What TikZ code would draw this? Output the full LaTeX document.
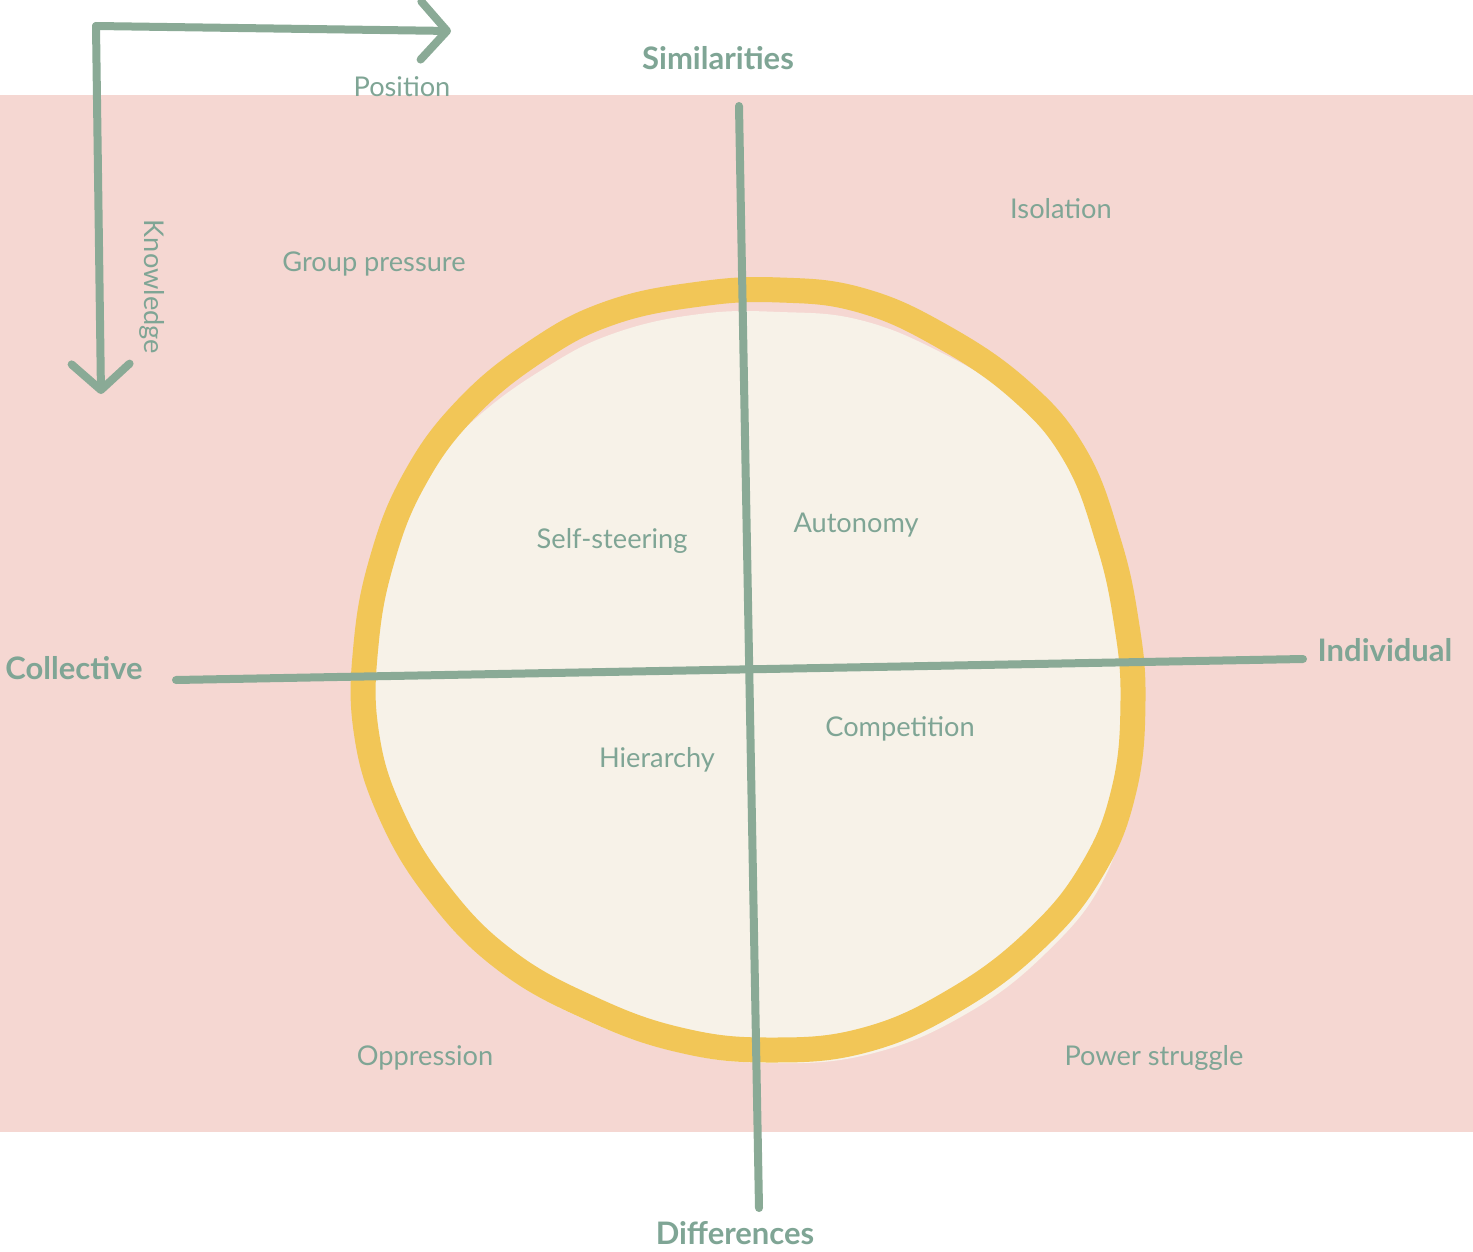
\documentclass[tikz,border=0pt]{standalone}
\usepackage{fontspec}
\setmainfont{Lato}
\usetikzlibrary{arrows.meta}
\definecolor{pinkbg}{HTML}{F5D7D2}
\definecolor{ringyellow}{HTML}{F2C657}
\definecolor{creamfill}{HTML}{F7F2E8}
\definecolor{axisgreen}{HTML}{8AAA96}
\definecolor{labelgreen}{HTML}{7FA595}
\tikzset{
  axisline/.style={draw=axisgreen, line width=4pt, line cap=round},
  arrowline/.style={draw=axisgreen, line width=4pt, line cap=round, line join=round,
    -{Straight Barb[round, length=13pt, width=29pt]}},
  quadlabel/.style={text=labelgreen, font=\fontsize{13.6}{16}\selectfont, inner sep=0pt},
  polelabel/.style={text=labelgreen, font=\fontsize{15.5}{18}\selectfont\bfseries, inner sep=0pt},
}
\begin{document}
\begin{tikzpicture}[x=0.5pt, y=-0.5pt]
\useasboundingbox (0,0) rectangle (1473,1252);
\fill[white] (0,0) rectangle (1473,1252);
\fill[pinkbg] (0,95) rectangle (1473,1132);

% blob fill (slightly offset from the ring) and ring
\fill[creamfill] plot[smooth cycle, tension=0.7] coordinates {
 (780,312) (860,320) (940,352) (1014,398) (1070,458) (1108,540) (1126,620) (1133,700)
 (1128,793) (1104,879) (1047,952) (966,1014) (870,1054) (770,1063) (678,1052)
 (586,1020) (498,970) (430,900) (388,812) (366,730) (366,645) (382,560)
 (416,483) (474,420) (545,368) (615,333) (700,314)};
\draw[ringyellow, line width=12.5pt] plot[smooth cycle, tension=0.7] coordinates {
 (780,290) (860,300) (940,335) (1020,390) (1075,455) (1108,540) (1126,620) (1133,700)
 (1124,790) (1092,870) (1035,940) (955,1000) (865,1040) (770,1050) (680,1040)
 (590,1008) (505,960) (438,892) (390,812) (366,730) (366,645) (382,560)
 (414,480) (465,410) (535,352) (610,313) (700,294)};

% axes
\coordinate (vtop) at (739,106);
\coordinate (vbot) at (759,1208);
\coordinate (hleft) at (176,680);
\coordinate (hright) at (1303,659);
\draw[axisline] (vtop) -- (vbot);
\draw[axisline] (hleft) -- (hright);

% corner arrows
\coordinate (corner) at (96,26);
\coordinate (posend) at (451,31);
\coordinate (knowend) at (101,394);
\draw[arrowline] (corner) -- (posend);
\draw[arrowline] (corner) -- (knowend);

% labels
\node[quadlabel] (position) at (402,87) {Position};
\node[quadlabel, rotate=-90] (knowledge) at (152,287) {Knowledge};
\node[polelabel] (similarities) at (718,58) {Similarities};
\node[polelabel] (collective) at (74,668) {Collective};
\node[polelabel] (individual) at (1385,650) {Individual};
\node[polelabel] (differences) at (735,1233) {Differences};
\node[quadlabel] (grouppressure) at (374,264) {Group pressure};
\node[quadlabel] (isolation) at (1061,209) {Isolation};
\node[quadlabel] (selfsteering) at (612,541) {Self-steering};
\node[quadlabel] (autonomy) at (856,525) {Autonomy};
\node[quadlabel] (competition) at (900,729) {Competition};
\node[quadlabel] (hierarchy) at (657,760) {Hierarchy};
\node[quadlabel] (oppression) at (425,1058) {Oppression};
\node[quadlabel] (powerstruggle) at (1154,1058) {Power struggle};
\end{tikzpicture}
\end{document}
